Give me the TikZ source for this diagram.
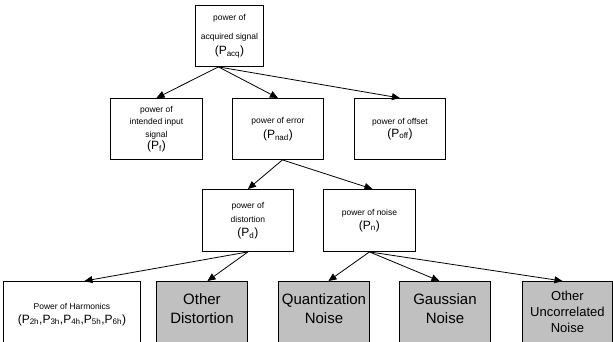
\documentclass[tikz,border=0pt]{standalone}
\usepackage{fontspec}
\setmainfont{Liberation Sans}
\usetikzlibrary{arrows.meta, positioning}
\definecolor{boxGray}{HTML}{C0C0C0}
\newcommand{\smalltxt}{\fontsize{8.5}{12.5}\selectfont}
\newcommand{\bigtxt}{\fontsize{12}{14}\selectfont}

\begin{document}
\begin{tikzpicture}[x=1pt, y=-1pt,
	box/.style={draw, line width=0.9pt, inner sep=0pt, align=center, anchor=north west, font=\smalltxt},
	greybox/.style={box, fill=boxGray, minimum width=91pt, minimum height=66pt, text depth=12pt, font=\fontsize{15}{18.5}\selectfont},
	arr/.style={-{Triangle[length=8pt, width=7pt]}, line width=0.8pt}]
	\useasboundingbox (0,0) rectangle (613,341);
	% top level
	\node[box, minimum width=68pt, minimum height=61pt] (acq) at (195,5)
		{power of\\[7pt] acquired signal\\[2pt] {\bigtxt (P\textsubscript{acq})}};
	% second level
	\node[box, minimum width=92pt, minimum height=61pt] (pf) at (110,98)
		{power of\\ intended input\\ signal\\ {\bigtxt (P\textsubscript{f})}};
	\node[box, minimum width=91pt, minimum height=61pt] (nad) at (232,98)
		{power of error\\[3pt] {\bigtxt (P\textsubscript{nad})}};
	\node[box, minimum width=91pt, minimum height=61pt] (off) at (354,98)
		{power of offset\\ {\bigtxt (P\textsubscript{off})}};
	% third level
	\node[box, minimum width=91pt, minimum height=62pt] (pd) at (202,189)
		{power of\\[2pt] distortion\\[1pt] {\bigtxt (P\textsubscript{d})}};
	\node[box, minimum width=92pt, minimum height=62pt] (pn) at (323,189)
		{power of noise\\[1pt] {\bigtxt (P\textsubscript{n})}};
	% bottom level
	\node[box, minimum width=137pt, minimum height=66pt] (harm) at (3,281)
		{Power of Harmonics\\[1pt] {\bigtxt (P\textsubscript{2h},P\textsubscript{3h},P\textsubscript{4h},P\textsubscript{5h},P\textsubscript{6h})}};
	\foreach \x/\name/\txt in {
		156/odist/Other\\Distortion,
		278/quant/Quantization\\Noise,
		399/gauss/Gaussian\\Noise
	}{
		\node[greybox] (\name) at (\x,281) {\txt};
	}
	\node[greybox, minimum width=90pt, text depth=6pt, font=\fontsize{13}{16}\selectfont] (ounc) at (522,281)
		{Other\\Uncorrelated\\Noise};
	% connector ends
	\coordinate (acqout) at ([xshift=-11pt]acq.south);
	\coordinate (nadout) at ([xshift=4.5pt]nad.south);
	\coordinate (pnin) at ([xshift=3pt]pn.north);
	\coordinate (harmin) at ([xshift=12.5pt]harm.north);
	\coordinate (odistin) at ([xshift=5.5pt]odist.north);
	\coordinate (quantin) at ([xshift=4.5pt]quant.north);
	\coordinate (gaussin) at ([xshift=-5.5pt]gauss.north);
	\coordinate (ouncin) at ([xshift=-5pt]ounc.north);
	\foreach \a/\b in {acqout/pf.north, acqout/nad.north, acqout/off.north,
		nadout/pd.north, nadout/pnin,
		pd.south/harmin, pd.south/odistin,
		pn.south/quantin, pn.south/gaussin, pn.south/ouncin}
	{\draw[arr] (\a) -- (\b);}
\end{tikzpicture}
\end{document}
